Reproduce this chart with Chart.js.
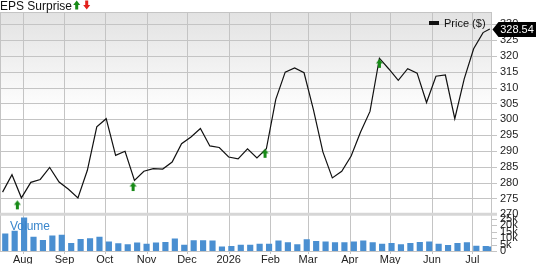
<!DOCTYPE html>
<html>
<head>
<meta charset="utf-8">
<script src="https://cdn.jsdelivr.net/npm/chart.js@4.4.1/dist/chart.umd.min.js"></script>
<style>
  html, body { margin: 0; padding: 0; background: #fff; }
</style>
</head>
<body>
<canvas id="priceChart" width="538" height="264"></canvas>
<script>
// weekly closes (Thursday) plus the last session
const priceDates = [
  '2025-07-17','2025-07-24','2025-07-31','2025-08-07','2025-08-14','2025-08-21','2025-08-28',
  '2025-09-04','2025-09-11','2025-09-18','2025-09-25','2025-10-02','2025-10-09','2025-10-16',
  '2025-10-23','2025-10-30','2025-11-06','2025-11-13','2025-11-20','2025-11-27','2025-12-04',
  '2025-12-11','2025-12-18','2025-12-25','2026-01-01','2026-01-08','2026-01-15','2026-01-22',
  '2026-01-29','2026-02-05','2026-02-12','2026-02-19','2026-02-26','2026-03-05','2026-03-12',
  '2026-03-19','2026-03-26','2026-04-02','2026-04-09','2026-04-16','2026-04-23','2026-04-30',
  '2026-05-07','2026-05-14','2026-05-21','2026-05-28','2026-06-04','2026-06-11','2026-06-18',
  '2026-06-25','2026-07-02','2026-07-09','2026-07-14'
];
const prices = [
  277.0, 282.5, 275.2, 280.1, 281.0, 284.8, 280.2, 277.9, 275.2, 283.9,
  297.6, 300.2, 288.6, 289.9, 280.7, 283.6, 284.4, 284.3, 286.5, 292.3,
  294.4, 297.1, 291.6, 291.1, 288.1, 287.5, 290.7, 287.8, 290.7, 306.3,
  314.9, 316.2, 314.7, 303.0, 289.7, 281.5, 283.6, 288.4, 296.0, 302.5,
  319.3, 315.9, 312.3, 316.0, 314.6, 305.3, 313.6, 314.0, 300.2, 312.8,
  322.3, 327.4, 328.54
];
// weekly volume (thousands), week ending Saturday
const volumeDates = [
  '2025-07-19','2025-07-26','2025-08-02','2025-08-09','2025-08-16','2025-08-23','2025-08-30',
  '2025-09-06','2025-09-13','2025-09-20','2025-09-27','2025-10-04','2025-10-11','2025-10-18',
  '2025-10-25','2025-11-01','2025-11-08','2025-11-15','2025-11-22','2025-11-29','2025-12-06',
  '2025-12-13','2025-12-20','2025-12-27','2026-01-03','2026-01-10','2026-01-17','2026-01-24',
  '2026-01-31','2026-02-07','2026-02-14','2026-02-21','2026-02-28','2026-03-07','2026-03-14',
  '2026-03-21','2026-03-28','2026-04-04','2026-04-11','2026-04-18','2026-04-25','2026-05-02',
  '2026-05-09','2026-05-16','2026-05-23','2026-05-30','2026-06-06','2026-06-13','2026-06-20',
  '2026-06-27','2026-07-04','2026-07-11','2026-07-14'
];
const volumes = [
  13.4, 15.5, 26.0, 10.8, 8.4, 11.8, 12.4, 6.0, 9.2, 9.7,
  10.8, 7.1, 5.8, 5.0, 6.3, 5.5, 6.3, 6.8, 9.5, 4.7,
  8.2, 8.2, 7.9, 3.2, 3.7, 4.7, 4.7, 5.5, 5.5, 7.9,
  6.6, 5.0, 8.9, 7.6, 7.1, 6.6, 6.6, 7.1, 7.9, 6.6,
  5.5, 6.0, 5.0, 6.0, 6.8, 7.1, 5.5, 4.5, 6.0, 6.6,
  3.9, 3.7, 3.2
];
const surpriseDates = ['2025-07-28', '2025-10-22', '2026-01-28', '2026-04-23'];
const surpriseValues = [274.4, 280.2, 290.7, 319.1];

const monthStarts = ['2025-08-01','2025-09-01','2025-10-01','2025-11-01','2025-12-01','2026-01-01',
  '2026-02-01','2026-03-01','2026-04-01','2026-05-01','2026-06-01','2026-07-01'];
const monthLabels = ['Aug','Sep','Oct','Nov','Dec','2026','Feb','Mar','Apr','May','Jun','Jul'];
const priceTicks = [270, 275, 280, 285, 290, 295, 300, 305, 310, 315, 320, 325, 330];
const volumeTicks = [0, 5, 10, 15, 20, 25];

const FONT = '"Liberation Sans", Arial, sans-serif';
const GRID = '#c4c4c4';
Chart.defaults.font.family = FONT;
Chart.defaults.font.size = 11;
Chart.defaults.color = '#222';

function dayOf(s) {
  const [y, m, d] = s.split('-').map(Number);
  return (Date.UTC(y, m - 1, d) - Date.UTC(2025, 7, 1)) / 864e5;
}

function drawArrow(ctx, x, top, up, color) {
  ctx.save();
  ctx.fillStyle = color;
  ctx.beginPath();
  if (up) {
    ctx.moveTo(x, top);
    ctx.lineTo(x + 3.5, top + 4.5);
    ctx.lineTo(x + 1.5, top + 4.5);
    ctx.lineTo(x + 1.5, top + 9);
    ctx.lineTo(x - 1.5, top + 9);
    ctx.lineTo(x - 1.5, top + 4.5);
    ctx.lineTo(x - 3.5, top + 4.5);
  } else {
    ctx.moveTo(x, top + 9);
    ctx.lineTo(x + 3.5, top + 4.5);
    ctx.lineTo(x + 1.5, top + 4.5);
    ctx.lineTo(x + 1.5, top);
    ctx.lineTo(x - 1.5, top);
    ctx.lineTo(x - 1.5, top + 4.5);
    ctx.lineTo(x - 3.5, top + 4.5);
  }
  ctx.closePath();
  ctx.fill();
  ctx.restore();
}

// arrow image whose top sits on the data point
const arrowImg = document.createElement('canvas');
arrowImg.width = 9;
arrowImg.height = 20;
drawArrow(arrowImg.getContext('2d'), 4.5, 10, true, '#178a17');

const panelBg = {
  id: 'panelBg',
  beforeDraw(chart) {
    const ctx = chart.ctx;
    const a = chart.chartArea;
    const y = chart.scales.y;
    const g = ctx.createLinearGradient(0, y.top, 0, y.bottom);
    g.addColorStop(0, '#e2e2e2');
    g.addColorStop(0.5, '#ffffff');
    g.addColorStop(1, '#ffffff');
    ctx.save();
    ctx.fillStyle = g;
    ctx.fillRect(a.left, y.top, a.right - a.left, y.bottom - y.top);
    ctx.restore();
  }
};

// grid drawn by hand so both panels share the month lines
const gridLines = {
  id: 'gridLines',
  beforeDatasetsDraw(chart) {
    const ctx = chart.ctx;
    const a = chart.chartArea;
    const x = chart.scales.x;
    const y = chart.scales.y;
    const yv = chart.scales.yv;
    ctx.save();
    ctx.lineWidth = 1;
    ctx.strokeStyle = GRID;
    ctx.beginPath();
    x.ticks.forEach(t => {
      const px = Math.round(x.getPixelForValue(t.value)) + 0.5;
      ctx.moveTo(px, a.top);
      ctx.lineTo(px, a.bottom + 3);
    });
    y.ticks.forEach(t => {
      if (t.value === 270) return;
      const py = Math.round(y.getPixelForValue(t.value)) + 0.5;
      ctx.moveTo(a.left, py);
      ctx.lineTo(a.right + 6, py);
    });
    yv.ticks.forEach(t => {
      const py = Math.round(yv.getPixelForValue(t.value)) + 0.5;
      ctx.moveTo(a.right, py);
      ctx.lineTo(a.right + 6, py);
    });
    // frame
    ctx.moveTo(a.left + 0.5, a.top);
    ctx.lineTo(a.left + 0.5, a.bottom);
    ctx.moveTo(Math.round(a.right) + 0.5, a.top);
    ctx.lineTo(Math.round(a.right) + 0.5, a.bottom);
    ctx.moveTo(a.left, Math.round(a.top) + 0.5);
    ctx.lineTo(a.right, Math.round(a.top) + 0.5);
    ctx.moveTo(a.left, Math.round(a.bottom) + 0.5);
    ctx.lineTo(a.right, Math.round(a.bottom) + 0.5);
    ctx.stroke();
    // panel separator
    ctx.strokeStyle = '#d6d6d6';
    ctx.lineWidth = 3;
    ctx.beginPath();
    const sy = y.getPixelForValue(270);
    ctx.moveTo(a.left, sy);
    ctx.lineTo(a.right + 6, sy);
    ctx.stroke();
    ctx.restore();
  }
};

const overlays = {
  id: 'overlays',
  afterDraw(chart) {
    const ctx = chart.ctx;
    const y = chart.scales.y;
    const yv = chart.scales.yv;
    ctx.save();
    // EPS surprise legend
    ctx.font = '12px ' + FONT;
    ctx.fillStyle = '#111';
    ctx.textBaseline = 'alphabetic';
    ctx.textAlign = 'left';
    ctx.fillText('EPS Surprise', 0, 9.5);
    drawArrow(ctx, 76.7, 0.5, true, '#178a17');
    drawArrow(ctx, 86.7, 0.5, false, '#e3201b');

    // Price legend
    ctx.fillStyle = '#111';
    ctx.fillRect(429, 21, 10, 4);
    ctx.font = '11px ' + FONT;
    ctx.textBaseline = 'middle';
    ctx.fillText('Price ($)', 444, 23.5);

    // Volume label
    ctx.font = '12px ' + FONT;
    ctx.fillStyle = '#3a86cc';
    ctx.fillText('Volume', 10, yv.top + 12);

    // last price tag
    const last = prices[prices.length - 1];
    const py = Math.round(y.getPixelForValue(last)) + 0.5;
    ctx.fillStyle = '#000';
    ctx.beginPath();
    ctx.moveTo(492.5, py);
    ctx.lineTo(498.5, py - 7.5);
    ctx.lineTo(536, py - 7.5);
    ctx.lineTo(536, py + 7.5);
    ctx.lineTo(498.5, py + 7.5);
    ctx.closePath();
    ctx.fill();
    ctx.fillStyle = '#fff';
    ctx.font = '11px ' + FONT;
    ctx.textAlign = 'center';
    ctx.fillText(last.toFixed(2), 517, py + 0.5);
    ctx.restore();
  }
};

new Chart(document.getElementById('priceChart'), {
  type: 'line',
  data: {
    datasets: [
      {
        label: 'EPS Surprise',
        data: surpriseDates.map((d, i) => ({ x: dayOf(d), y: surpriseValues[i] })),
        yAxisID: 'y',
        showLine: false,
        pointStyle: arrowImg,
        pointRadius: 5,
        order: 0
      },
      {
        label: 'Price ($)',
        data: priceDates.map((d, i) => ({ x: dayOf(d), y: prices[i] })),
        yAxisID: 'y',
        borderColor: '#111',
        borderWidth: 1.2,
        pointRadius: 0,
        tension: 0,
        fill: false,
        order: 1
      },
      {
        type: 'bar',
        label: 'Volume',
        data: volumeDates.map((d, i) => ({ x: dayOf(d), y: volumes[i] })),
        yAxisID: 'yv',
        backgroundColor: '#4a8fd1',
        barThickness: 5.5,
        order: 2
      }
    ]
  },
  options: {
    responsive: false,
    animation: false,
    devicePixelRatio: 1,
    layout: { autoPadding: false, padding: { top: 12, left: 0, right: 0, bottom: 0 } },
    plugins: { legend: { display: false }, tooltip: { enabled: false } },
    scales: {
      x: {
        type: 'linear',
        min: -16.9,
        max: 347.9,
        offset: false,
        afterBuildTicks: s => { s.ticks = monthStarts.map(d => ({ value: dayOf(d) })); },
        afterFit: s => { s.height = 13; s.paddingLeft = 0; s.paddingRight = 0; },
        ticks: {
          autoSkip: false,
          maxRotation: 0,
          padding: 2,
          callback: (v, i) => monthLabels[i]
        },
        grid: { display: false, drawTicks: false },
        border: { display: false }
      },
      y: {
        type: 'linear',
        position: 'right',
        stack: 'panels',
        stackWeight: 202.3,
        min: 270,
        max: 333.9,
        afterBuildTicks: s => { s.ticks = priceTicks.map(v => ({ value: v })); },
        afterFit: s => { s.width = 47; s.paddingTop = 0; s.paddingBottom = 0; },
        ticks: { autoSkip: false, padding: 9 },
        grid: { display: false, drawTicks: false },
        border: { display: false }
      },
      yv: {
        type: 'linear',
        position: 'right',
        stack: 'panels',
        stackWeight: 36.7,
        min: 0,
        max: 28.7,
        afterBuildTicks: s => { s.ticks = volumeTicks.map(v => ({ value: v })); },
        afterFit: s => { s.width = 47; s.paddingTop = 0; s.paddingBottom = 0; },
        ticks: { autoSkip: false, padding: 9, callback: v => v === 0 ? '0' : v + 'k' },
        grid: { display: false, drawTicks: false },
        border: { display: false }
      }
    }
  },
  plugins: [panelBg, gridLines, overlays]
});
</script>
</body>
</html>
